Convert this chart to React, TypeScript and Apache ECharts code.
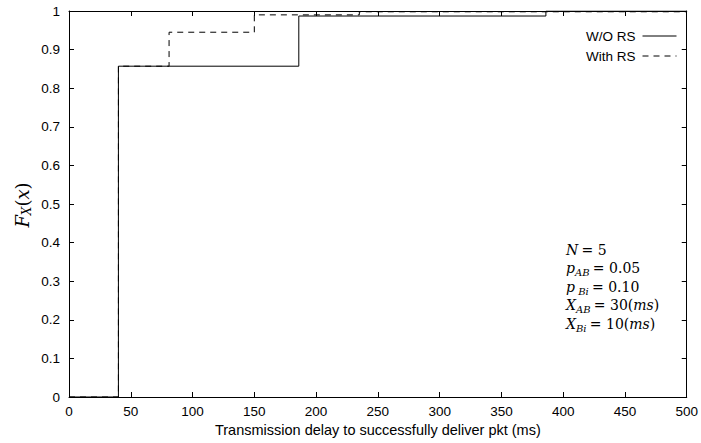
import React, { useEffect, useRef } from "react";
import * as echarts from "echarts";

const woX = [0, 40, 186, 386, 500];
const woY = [0, 0.857, 0.987, 1, 1];
const wX = [0, 40, 81, 150, 235, 500];
const wY = [0, 0.857, 0.945, 0.99, 0.998, 0.998];
const seriesNames = ["W/O RS", "With RS"];
const xTitle = "Transmission delay to successfully deliver pkt (ms)";

const serif = "'DejaVu Serif', 'Liberation Serif', serif";
const sans = "'Liberation Sans', Arial, sans-serif";

export default function App() {
  const ref = useRef<HTMLDivElement>(null);
  useEffect(() => {
    const chart = echarts.init(ref.current!, null, { renderer: "svg" });
    const axisCommon = {
      axisLine: { show: true, onZero: false, lineStyle: { color: "#000", width: 1 } },
      axisTick: { show: true, inside: true, length: 5, lineStyle: { color: "#000" } },
      splitLine: { show: false },
    };
    const rich = {
      i: { fontFamily: serif, fontStyle: "italic", fontSize: 14, color: "#000" },
      n: { fontFamily: serif, fontSize: 14, color: "#000" },
      s: { fontFamily: serif, fontStyle: "italic", fontSize: 10, color: "#000", padding: [9, 0, 0, 0] },
    };
    const annLines = [
      "{i|N} {n|= 5}",
      "{i|p}{s|AB} {n|= 0.05}",
      "{i|p}{s| Bi} {n|= 0.10}",
      "{i|X}{s|AB} {n|= 30(}{i|ms}{n|)}",
      "{i|X}{s|Bi} {n|= 10(}{i|ms}{n|)}",
    ];
    chart.setOption({
      animation: false,
      grid: { left: 69, right: 8, top: 11, bottom: 46, containLabel: false },
      legend: {
        right: 19,
        top: 24,
        orient: "vertical",
        align: "right",
        itemWidth: 34,
        itemHeight: 12,
        itemGap: 6,
        textStyle: { fontFamily: sans, fontSize: 13.5, color: "#000", padding: [0, 2, 0, 0] },
        itemStyle: { color: "rgba(0,0,0,0)", borderColor: "rgba(0,0,0,0)", borderWidth: 0 },
        lineStyle: { width: 1 },
        data: seriesNames,
      },
      xAxis: [
        {
          type: "value",
          min: 0,
          max: 500,
          interval: 50,
          position: "bottom",
          ...axisCommon,
          axisLabel: { fontFamily: sans, fontSize: 13.5, color: "#000", margin: 7 },
          name: xTitle,
          nameLocation: "middle",
          nameGap: 21,
          nameTextStyle: { fontFamily: sans, fontSize: 14.5, color: "#000" },
        },
        {
          type: "value",
          min: 0,
          max: 500,
          interval: 50,
          position: "top",
          ...axisCommon,
          axisLabel: { show: false },
        },
      ],
      yAxis: [
        {
          type: "value",
          min: 0,
          max: 1,
          interval: 0.1,
          position: "left",
          ...axisCommon,
          axisLabel: { fontFamily: sans, fontSize: 13.5, color: "#000", margin: 9 },
        },
        {
          type: "value",
          min: 0,
          max: 1,
          interval: 0.1,
          position: "right",
          ...axisCommon,
          axisLabel: { show: false },
        },
      ],
      series: [
        {
          name: seriesNames[0],
          type: "line",
          step: "end",
          symbol: "none",
          data: woX.map((x, k) => [x, woY[k]]),
          lineStyle: { color: "#000", width: 1, type: "solid" },
          itemStyle: { color: "#000" },
        },
        {
          name: seriesNames[1],
          type: "line",
          step: "end",
          symbol: "none",
          data: wX.map((x, k) => [x, wY[k]]),
          lineStyle: { color: "#000", width: 1, type: [6, 5] },
          itemStyle: { color: "#000" },
        },
      ],
      graphic: [
        {
          type: "text",
          x: 22,
          y: 205,
          rotation: Math.PI / 2,
          style: {
            text: "{i|F}{s|X}{n|(}{i|x}{n|)}",
            rich: {
              i: { fontFamily: serif, fontStyle: "italic", fontSize: 18, color: "#000" },
              n: { fontFamily: serif, fontSize: 18, color: "#000" },
              s: { fontFamily: serif, fontStyle: "italic", fontSize: 12, color: "#000", padding: [10, 0, 0, 0] },
            },
            align: "center",
            verticalAlign: "middle",
          },
        },
        ...annLines.map((t, k) => ({
          type: "text",
          left: 566,
          top: 243 + k * 18.4,
          style: { text: t, rich },
        })),
      ],
    });
    return () => chart.dispose();
  }, []);
  return (
    <div
      ref={ref}
      style={{ position: "fixed", left: 0, top: 0, width: 701, height: 443, background: "#fff" }}
    />
  );
}
